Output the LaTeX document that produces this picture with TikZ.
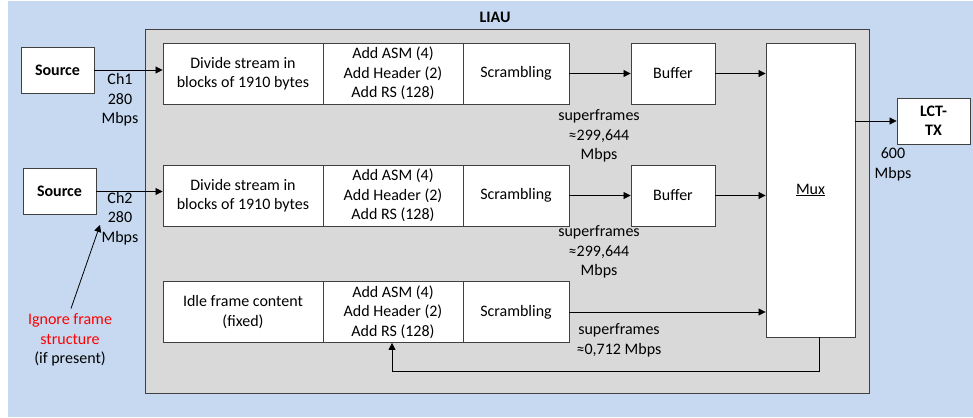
\documentclass[tikz,border=0pt]{standalone}
\usepackage{fontspec}
\setmainfont{Carlito}
\usetikzlibrary{arrows.meta}
\definecolor{bgblue}{HTML}{C6D9F1}
\definecolor{liaugray}{HTML}{D9D9D9}
\definecolor{edge}{HTML}{404040}
\definecolor{alertred}{HTML}{FF0000}
\begin{document}
\begin{tikzpicture}[x=1pt,y=-1pt,
  txt/.style={font=\fontsize{16}{19.5}\selectfont},
  box/.style={txt, draw=edge, fill=white, line width=0.9pt, inner sep=0pt, align=center},
  srcbox/.style={box, minimum width=73pt, minimum height=46pt, font=\fontsize{16}{19.5}\selectfont\bfseries},
  divbox/.style={box, minimum width=160pt, minimum height=61pt},
  addbox/.style={box, minimum width=140pt, minimum height=61pt},
  scrbox/.style={box, minimum width=106pt, minimum height=61pt},
  bufbox/.style={box, minimum width=84pt, minimum height=61pt},
  lbl/.style={txt, align=center, inner sep=0pt},
  flow/.style={-{Triangle[length=7pt,width=7pt]}, line width=0.8pt, draw=black}]

\useasboundingbox (0,0) rectangle (973,417);
\fill[white] (0,0) rectangle (973,417);
\fill[bgblue] (8,1) rectangle (973,417);

% LIAU enclosure
\draw[fill=liaugray, draw=edge, line width=0.9pt] (145,29) rectangle (869,393);
\node[lbl, font=\fontsize{16}{19.5}\selectfont\bfseries] (liau) at (495,17) {LIAU};

% sources and transmitter
\node[srcbox] (src1) at (57.5,70) {Source};
\node[srcbox] (src2) at (59.5,191.5) {Source};
\node[srcbox] (lct) at (933.5,121) {LCT-\\TX};

% channel 1
\node[divbox] (div1) at (243,73.5) {Divide stream in\\blocks of 1910 bytes};
\node[addbox] (add1) at (393,73.5) {Add ASM (4)\\Add Header (2)\\Add RS (128)};
\node[scrbox] (scr1) at (516,73.5) {Scrambling};
\node[bufbox] (buf1) at (673,73.5) {Buffer};

% channel 2
\node[divbox] (div2) at (243,195.5) {Divide stream in\\blocks of 1910 bytes};
\node[addbox] (add2) at (393,195.5) {Add ASM (4)\\Add Header (2)\\Add RS (128)};
\node[scrbox] (scr2) at (516,195.5) {Scrambling};
\node[bufbox] (buf2) at (673,195.5) {Buffer};

% idle frames
\node[divbox] (idle) at (243,312) {Idle frame content\\(fixed)};
\node[addbox] (add3) at (393,312) {Add ASM (4)\\Add Header (2)\\Add RS (128)};
\node[scrbox] (scr3) at (516,312) {Scrambling};

% multiplexer
\node[box, minimum width=89pt, minimum height=294pt] (mux) at (810.5,190) {\underline{Mux}};

% labels
\node[lbl] (ch1) at (120,100) {Ch1\\280\\Mbps};
\node[lbl] (ch2) at (120,218.5) {Ch2\\280\\Mbps};
\node[lbl] (sf1) at (599,136) {superframes\\≈299,644\\Mbps};
\node[lbl] (sf2) at (599,252) {superframes\\≈299,644\\Mbps};
\node[lbl] (sf3) at (619,340.5) {superframes\\≈0,712 Mbps};
\node[lbl] (rate) at (893,164.5) {600\\Mbps};
\node[lbl] (ignore) at (70,340) {\textcolor{alertred}{Ignore frame}\\\textcolor{alertred}{structure}\\(if present)};
\coordinate (ch2tip) at (100,225);

% connectors
\draw[flow] (src1.east) -- (src1.east -| div1.west);
\draw[flow] (src2.east) -- (src2.east -| div2.west);
\draw[flow] (scr1.east) -- (buf1.west);
\draw[flow] (buf1.east) -- (buf1.east -| mux.west);
\draw[flow] (scr2.east) -- (buf2.west);
\draw[flow] (buf2.east) -- (buf2.east -| mux.west);
\draw[flow] (scr3.east) -- (scr3.east -| mux.west);
\draw[flow] (mux.east |- lct.west) -- (lct.west);
\draw[flow] ([xshift=8.5pt]mux.south) -- ++(0,34) -| ([xshift=-1pt]add3.south);
\draw[flow] ([shift={(1,-5)}]ignore.north) -- (ch2tip);
\end{tikzpicture}
\end{document}
